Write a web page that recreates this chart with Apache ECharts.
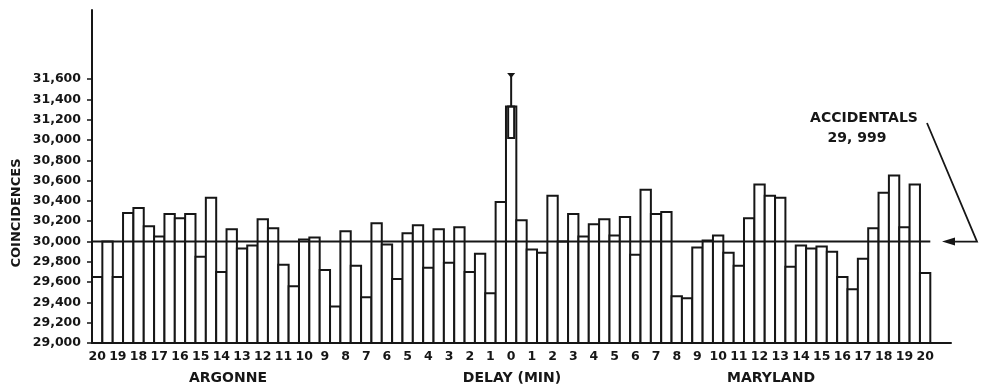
<!DOCTYPE html>
<html>
<head>
<meta charset="utf-8">
<title>Coincidences vs delay</title>
<script src="https://cdn.jsdelivr.net/npm/echarts@6/dist/echarts.min.js"></script>
<style>
  html, body { margin: 0; padding: 0; background: #fff; }
  #chart { width: 983px; height: 390px; }
</style>
</head>
<body>
<div id="chart"></div>
<script>
// delay in minutes, Argonne side negative, Maryland side positive
const delays = [
  -20, -19.5, -19, -18.5, -18, -17.5, -17, -16.5, -16, -15.5,
  -15, -14.5, -14, -13.5, -13, -12.5, -12, -11.5, -11, -10.5,
  -10, -9.5, -9, -8.5, -8, -7.5, -7, -6.5, -6, -5.5,
  -5, -4.5, -4, -3.5, -3, -2.5, -2, -1.5, -1, -0.5,
  0,
  0.5, 1, 1.5, 2, 2.5, 3, 3.5, 4, 4.5, 5,
  5.5, 6, 6.5, 7, 7.5, 8, 8.5, 9, 9.5, 10,
  10.5, 11, 11.5, 12, 12.5, 13, 13.5, 14, 14.5, 15,
  15.5, 16, 16.5, 17, 17.5, 18, 18.5, 19, 19.5, 20
];
const coincidences = [
  29650, 30000, 29650, 30280, 30330, 30150, 30050, 30270, 30230, 30270,
  29850, 30430, 29700, 30120, 29930, 29960, 30220, 30130, 29770, 29560,
  30020, 30040, 29720, 29360, 30100, 29760, 29450, 30180, 29970, 29630,
  30080, 30160, 29740, 30120, 29790, 30140, 29700, 29880, 29490, 30390,
  31330,
  30210, 29920, 29890, 30450, 30000, 30270, 30050, 30170, 30220, 30060,
  30240, 29870, 30510, 30270, 30290, 29460, 29440, 29940, 30010, 30060,
  29890, 29760, 30230, 30560, 30450, 30430, 29750, 29960, 29930, 29950,
  29900, 29650, 29530, 29830, 30130, 30480, 30650, 30140, 30560, 29690
];
const yTickValues = [29000, 29200, 29400, 29600, 29800, 30000, 30200,
  30400, 30600, 30800, 31000, 31200, 31400, 31600];
// labels as printed in the figure (31,000 reads "30,000" there)
const yTickLabels = ['29,000', '29,200', '29,400', '29,600', '29,800', '30,000', '30,200',
  '30,400', '30,600', '30,800', '30,000', '31,200', '31,400', '31,600'];
const accidentals = 29999;
const peakDelay = 0;
const peakError = [31020, 31650];

const ink = '#161616';
const font = 'DejaVu Sans';

// two empty slots so the baseline runs a little past the last bar
const axisCategories = delays.map(String).concat(['', '']);
const peakIndex = delays.indexOf(peakDelay);
const yMin = 29000;

const chart = echarts.init(document.getElementById('chart'));

const option = {
  animation: false,
  backgroundColor: '#fff',
  grid: { left: 92, right: 32, top: 10, bottom: 47 },
  xAxis: {
    type: 'category',
    data: axisCategories,
    axisLine: { lineStyle: { color: ink, width: 2 } },
    axisTick: { show: false },
    axisLabel: {
      interval: (index, value) => value !== '' && index % 2 === 0,
      formatter: (v) => (v === '' ? '' : String(Math.abs(Number(v)))),
      color: ink, fontFamily: font, fontWeight: 'bold', fontSize: 12.5, margin: 7
    }
  },
  yAxis: {
    type: 'value',
    min: yMin,
    max: 32280,
    splitLine: { show: false },
    axisLine: { show: true, lineStyle: { color: ink, width: 2 } },
    axisTick: { show: true, length: 5, customValues: yTickValues, lineStyle: { color: ink, width: 1.5 } },
    axisLabel: {
      customValues: yTickValues,
      formatter: (v) => {
        const i = yTickValues.indexOf(v);
        return i < 0 ? '' : yTickLabels[i];
      },
      color: ink, fontFamily: font, fontWeight: 'bold', fontSize: 12.5, margin: 11
    }
  },
  series: [
    {
      // histogram bars, edge to edge so neighbours share one outline
      type: 'custom',
      data: coincidences.map((v, i) => [i, v]),
      z: 2,
      renderItem: (params, api) => {
        const w = api.size([1, 0])[0];
        const top = api.coord([api.value(0), api.value(1)]);
        const base = api.coord([api.value(0), yMin]);
        return {
          type: 'rect',
          shape: { x: top[0] - w / 2, y: top[1], width: w, height: base[1] - top[1] },
          style: { fill: '#fff', stroke: ink, lineWidth: 2 }
        };
      }
    },
    {
      // error on the zero-delay bar
      type: 'custom',
      data: [[peakIndex, peakError[0], coincidences[peakIndex], peakError[1]]],
      encode: { x: 0, y: [1, 2, 3] },
      z: 4,
      renderItem: (params, api) => {
        const lo = api.coord([api.value(0), api.value(1)]);
        const mid = api.coord([api.value(0), api.value(2)]);
        const hi = api.coord([api.value(0), api.value(3)]);
        const style = { stroke: ink, lineWidth: 2, fill: 'none' };
        return {
          type: 'group',
          children: [
            { type: 'rect', shape: { x: lo[0] - 3, y: mid[1], width: 6, height: lo[1] - mid[1] }, style },
            { type: 'line', shape: { x1: mid[0], y1: mid[1], x2: hi[0], y2: hi[1] }, style },
            { type: 'polygon', shape: { points: [[hi[0] - 4, hi[1] - 1], [hi[0] + 4, hi[1] - 1], [hi[0], hi[1] + 4]] },
              style: { fill: ink } }
          ]
        };
      }
    },
    {
      // accidentals level across the whole histogram
      type: 'custom',
      data: [[0, accidentals]],
      z: 5,
      renderItem: (params, api) => {
        const half = api.size([1, 0])[0] / 2;
        const a = api.coord([0, api.value(1)]);
        const b = api.coord([delays.length - 1, api.value(1)]);
        return {
          type: 'line',
          shape: { x1: a[0] - half, y1: a[1], x2: b[0] + half, y2: b[1] },
          style: { stroke: ink, lineWidth: 2 }
        };
      }
    }
  ]
};

chart.setOption(option);

// annotations
const tipY = chart.convertToPixel({ yAxisIndex: 0 }, accidentals);
const labelStyle = { fill: ink, fontFamily: font, fontWeight: 'bold', fontSize: 14, align: 'center', verticalAlign: 'middle' };

chart.setOption({
  graphic: [
    { type: 'text', x: 17, y: 213, rotation: Math.PI / 2,
      style: Object.assign({}, labelStyle, { text: 'COINCIDENCES', fontSize: 13 }) },
    { type: 'text', x: 228, y: 378, style: Object.assign({}, labelStyle, { text: 'ARGONNE' }) },
    { type: 'text', x: 512, y: 378, style: Object.assign({}, labelStyle, { text: 'DELAY (MIN)' }) },
    { type: 'text', x: 771, y: 378, style: Object.assign({}, labelStyle, { text: 'MARYLAND' }) },
    { type: 'text', x: 864, y: 118, style: Object.assign({}, labelStyle, { text: 'ACCIDENTALS' }) },
    { type: 'text', x: 857, y: 138, style: Object.assign({}, labelStyle, { text: '29, 999' }) },
    { type: 'polyline', shape: { points: [[927, 123], [977, tipY], [952, tipY]] },
      style: { stroke: ink, lineWidth: 1.8, fill: 'none' } },
    { type: 'polygon', shape: { points: [[942, tipY], [955, tipY - 4], [955, tipY + 4]] },
      style: { fill: ink } }
  ]
});
</script>
</body>
</html>
